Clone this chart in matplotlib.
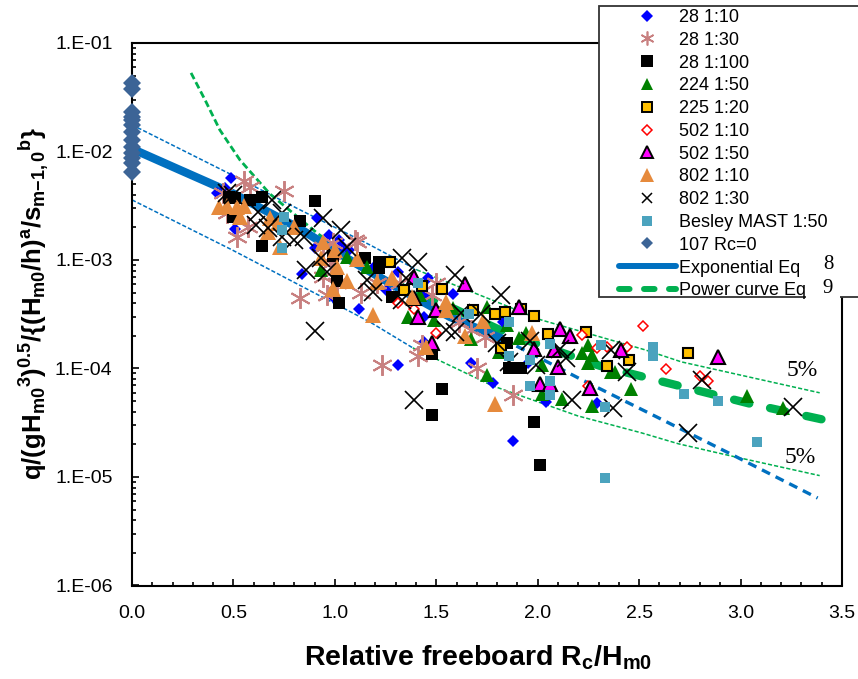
import numpy as np
import matplotlib
matplotlib.use("Agg")
import matplotlib.pyplot as plt
from matplotlib.lines import Line2D
from matplotlib.patches import Rectangle
from matplotlib.ticker import FixedLocator, FixedFormatter, MultipleLocator, NullFormatter

plt.rcParams['font.family'] = ['Liberation Sans', 'DejaVu Sans']
plt.rcParams['mathtext.fontset'] = 'custom'
plt.rcParams['mathtext.rm'] = 'Liberation Sans'
plt.rcParams['mathtext.bf'] = 'Liberation Sans:bold'
plt.rcParams['lines.scale_dashes'] = False

# scatter values: relative freeboard and log10 of the dimensionless discharge
x_28_10 = [.49, .46, .42, .51, .91, .97, 1.04, .90, .84, .99, 1.12, 1.19, 1.31, 1.46, 1.44, 1.58, 1.31, 1.67, 1.78,
           2.04, 1.95, 1.83, 1.44, 1.44, 1.88, 2.29, 1.02, 1.07, 1.25]
y_28_10 = [-2.244, -2.336, -2.382, -2.713, -2.612, -2.769, -2.879, -2.888, -3.128, -3.340, -3.450, -3.073, -3.110,
           -3.165, -3.331, -3.312, -3.966, -3.948, -4.132, -4.307, -3.948, -3.570, -3.524, -3.754, -4.667, -4.316,
           -2.815, -2.907, -3.275]

x_28_30 = [.55, .58, .75, .45, .57, .52, .47, 1.10, 1.11, .94, .99, .83, .96, 1.13, 1.01, .94, .98, 1.21, 1.32, 1.50,
           1.48, 1.23, 1.41, 1.43, 1.67, 1.74, 1.61, 1.70, 1.88]
y_28_30 = [-2.271, -2.327, -2.363, -2.382, -2.695, -2.787, -2.566, -2.815, -2.833, -2.879, -2.842, -3.349, -3.322,
           -3.303, -3.211, -3.156, -3.027, -3.211, -3.211, -3.211, -3.322, -3.966, -3.883, -3.782, -3.644, -3.708,
           -3.570, -3.994, -4.243]

x_28_100 = [.58, .64, .90, .83, .50, .48, .51, .64, 1.15, .99, 1.01, 1.02, 1.22, 1.22, 1.28, 1.48, 1.53, 1.48, 1.86,
            1.92, 1.85, 1.98, 2.01]
y_28_100 = [-2.446, -2.419, -2.456, -2.640, -2.603, -2.419, -2.428, -2.870, -2.981, -2.962, -3.193, -3.395, -3.017,
            -3.073, -3.340, -3.865, -4.188, -4.427, -3.994, -3.994, -3.764, -4.491, -4.888]

x_224 = [.93, 1.06, 1.16, 1.36, 1.49, 1.42, 1.75, 1.67, 1.81, 1.91, 1.94, 2.02, 2.02, 2.12, 2.27, 2.22, 2.27, 2.25,
         2.25, 2.36, 2.38, 2.46, 1.75, 1.58, 1.85, 3.03, 3.21]
y_224 = [-3.091, -2.971, -3.064, -3.524, -3.552, -3.322, -4.059, -3.727, -3.847, -3.718, -3.672, -3.966, -4.234,
         -4.280, -4.344, -3.856, -3.875, -3.782, -3.948, -4.031, -4.031, -4.188, -3.432, -3.441, -3.598, -4.252,
         -4.363]

x_225 = [1.27, 1.34, 1.43, 1.53, 1.68, 1.79, 1.84, 1.92, 1.98, 2.05, 2.24, 1.82, 2.45, 2.34, 2.74]
y_225 = [-3.017, -3.275, -3.239, -3.266, -3.460, -3.497, -3.478, -3.450, -3.515, -3.681, -3.662, -3.810, -3.920,
         -3.976, -3.856]

x_502_10 = [1.31, 1.39, 1.50, 2.22, 2.52, 2.29, 2.34, 2.44, 2.63, 2.80, 2.84, 2.25]
y_502_10 = [-3.395, -3.450, -3.672, -3.690, -3.607, -3.810, -3.801, -3.801, -4.003, -4.068, -4.114, -4.160]

x_502_50 = [1.39, 1.39, 1.41, 1.50, 1.64, 1.48, 1.91, 1.98, 2.08, 2.11, 2.16, 2.10, 2.01, 2.06, 2.26, 2.41, 2.89]
y_502_50 = [-3.156, -3.349, -3.524, -3.460, -3.220, -3.764, -3.432, -3.819, -3.828, -3.635, -3.699, -3.985, -4.141,
            -4.141, -4.178, -3.828, -3.893]

x_802_10 = [.43, .47, .52, .55, .53, .67, .68, .72, .80, .73, .94, 1.00, 1.01, 1.06, 1.11, .99, .93, 1.19, 1.21, 1.28,
            1.38, 1.55, 1.55, 1.45, 1.64, 1.73, 1.79, 1.97]
y_802_10 = [-2.511, -2.502, -2.511, -2.502, -2.603, -2.741, -2.612, -2.658, -2.695, -2.879, -2.833, -2.907, -3.064,
            -3.193, -2.990, -3.266, -2.981, -3.506, -3.202, -3.165, -3.340, -3.386, -3.460, -3.801, -3.699, -3.561,
            -4.325, -3.672]

x_802_30 = [.47, .50, .69, .62, .74, .61, .67, .74, .80, .85, .94, 1.03, 1.06, .93, .86, .96, 1.16, 1.19, .90, 1.33,
            1.41, 1.59, 1.82, 1.33, 1.35, 1.62, 1.55, 1.59, 1.72, 1.80, 1.39, 1.86, 1.99, 1.96, 2.11, 2.14, 2.17,
            2.37, 2.44, 2.36, 2.81, 2.74, 3.26]
y_802_30 = [-2.382, -2.400, -2.446, -2.557, -2.566, -2.677, -2.704, -2.787, -2.815, -2.787, -2.612, -2.723, -2.879,
            -2.981, -3.091, -3.110, -3.183, -3.294, -3.653, -2.981, -3.017, -3.137, -3.322, -3.368, -3.165, -3.487,
            -3.644, -3.662, -3.497, -3.764, -4.289, -3.939, -3.966, -3.745, -3.819, -3.902, -4.289, -4.363, -4.031,
            -3.828, -4.105, -4.593, -4.353]

x_besley = [.75, .74, .74, 1.41, 1.66, 1.86, 2.06, 1.86, 1.96, 1.96, 2.06, 2.06, 2.57, 2.57, 2.31, 2.72, 2.89, 3.08,
            2.33, 2.33]
y_besley = [-2.603, -2.723, -2.888, -3.211, -3.497, -3.570, -3.773, -3.883, -3.920, -4.160, -4.114, -4.243, -3.801,
            -3.883, -3.782, -4.234, -4.298, -4.676, -5.007, -4.353]

x_107 = [0.0] * 13
y_107 = [-1.368, -1.424, -1.637, -1.682, -1.710, -1.755, -1.820, -1.894, -1.959, -2.014, -2.060, -2.106, -2.189]

# curves
x_exp = [0, .236, .493, .828, 1.074, 1.32, 1.567, 1.828]
q_exp = [1.06e-2, 6.76e-3, 4.15e-3, 1.94e-3, 1.00e-3, 5.42e-4, 2.99e-4, 1.87e-4]
x_exp_far = [1.828, 2.01, 2.21, 2.576, 2.94, 3.38]
q_exp_far = [1.87e-4, 1.25e-4, 8.0e-5, 3.66e-5, 1.67e-5, 6.4e-6]

x_pow = [.291, .36, .433, .532, .68, .911, 1.123, 1.32]
q_pow = [5.3e-2, 2.99e-2, 1.58e-2, 8.36e-3, 4.06e-3, 1.78e-3, 9.0e-4, 5.9e-4]
x_pow_far = [1.32, 1.567, 1.813, 2.01, 2.305, 2.70, 3.05, 3.40]
q_pow_far = [5.9e-4, 3.7e-4, 2.27e-4, 1.65e-4, 1.06e-4, 6.9e-5, 4.72e-5, 3.4e-5]

x_up_exp = [0, .493, .828, 1.172, 1.404]
q_up_exp = [1.76e-2, 6.08e-3, 2.90e-3, 1.38e-3, 8.11e-4]
x_up_pow = [1.404, 1.798, 2.015, 2.527, 2.709, 3.39]
q_up_pow = [8.11e-4, 4.11e-4, 2.81e-4, 1.49e-4, 1.15e-4, 5.97e-5]
x_lo_exp = [0, .493, 1.172, 1.384]
q_lo_exp = [3.58e-3, 1.24e-3, 2.69e-4, 1.55e-4]
x_lo_pow = [1.384, 1.778, 2.197, 2.512, 2.695, 2.975, 3.39]
q_lo_pow = [1.55e-4, 6.92e-5, 3.66e-5, 2.55e-5, 2.02e-5, 1.53e-5, 1.03e-5]

y_tick_values = [1e-6, 1e-5, 1e-4, 1e-3, 1e-2, 1e-1]
y_tick_labels = ["1.E-06", "1.E-05", "1.E-04", "1.E-03", "1.E-02", "1.E-01"]

BLUE = '#0070C0'
GREEN = '#00B050'
W, H = 858, 679


def fx(px):
    return px / W


def fy(py):
    return 1 - py / H


def scatter(ax, xs, ys, **style):
    ax.plot(xs, 10.0 ** np.array(ys), ls='none', zorder=3, **style)


fig = plt.figure(figsize=(W / 100, H / 100), dpi=100)
ax = fig.add_axes([fx(132), fy(585.5), fx(842) - fx(132), fy(43) - fy(585.5)])

# curves sit under the markers
ax.plot(x_up_exp, q_up_exp, color=BLUE, lw=1.1, dashes=(3, 1.5), zorder=2)
ax.plot(x_lo_exp, q_lo_exp, color=BLUE, lw=1.1, dashes=(3, 1.5), zorder=2)
ax.plot(x_up_pow, q_up_pow, color=GREEN, lw=1.1, dashes=(3, 1.5), zorder=2)
ax.plot(x_lo_pow, q_lo_pow, color=GREEN, lw=1.1, dashes=(3, 1.5), zorder=2)
ax.plot(x_pow, q_pow, color=GREEN, lw=2, dashes=(5, 2.5), zorder=2)
ax.plot(x_pow_far, q_pow_far, color=GREEN, lw=6, ls=(10.8, (11.3, 15.3)), dash_capstyle='round', zorder=2)
ax.plot(x_exp, q_exp, color=BLUE, lw=6, solid_capstyle='butt', zorder=2)
ax.plot(x_exp_far, q_exp_far, color=BLUE, lw=2.4, dashes=(6.5, 4.5), zorder=2)

scatter(ax, x_28_10, y_28_10, marker='D', ms=6.5, color='#0000FF', mew=0)
scatter(ax, x_28_30, y_28_30, marker=(6, 2, 0), ms=15, color='#C88080', mew=1.4)
scatter(ax, x_28_100, y_28_100, marker='s', ms=8.5, color='black', mew=0)
scatter(ax, x_224, y_224, marker='^', ms=10.5, color='#008000', mew=0)
scatter(ax, x_225, y_225, marker='s', ms=7.8, mfc='#FFC000', mec='black', mew=1.5)
scatter(ax, x_502_10, y_502_10, marker='D', ms=5.5, mfc='white', mec='#FF0000', mew=1.1)
scatter(ax, x_502_50, y_502_50, marker='^', ms=10.5, mfc='#FF00FF', mec='black', mew=1.5)
scatter(ax, x_802_10, y_802_10, marker='^', ms=11, color='#E68A3C', mew=0)
scatter(ax, x_802_30, y_802_30, marker='x', ms=12.5, color='black', mew=1.2)
scatter(ax, x_besley, y_besley, marker='s', ms=7.5, color='#4BA3BE', mew=0)
ax.plot(x_107, 10.0 ** np.array(y_107), ls='none', marker='D', ms=9, color='#3C6496', mew=0, clip_on=False, zorder=4)

ax.set_yscale('log')
ax.set_xlim(0, 3.5)
ax.set_ylim(1e-6, 1e-1)
ax.yaxis.set_major_locator(FixedLocator(y_tick_values))
ax.yaxis.set_major_formatter(FixedFormatter(y_tick_labels))
ax.yaxis.set_minor_locator(FixedLocator([m * d for d in y_tick_values[:-1] for m in range(2, 10)]))
ax.yaxis.set_minor_formatter(NullFormatter())
ax.xaxis.set_major_locator(MultipleLocator(0.5))
ax.xaxis.set_minor_locator(MultipleLocator(0.1))
ax.xaxis.set_major_formatter(lambda v, pos: "%.1f" % v)
ax.tick_params(which='major', direction='in', length=5, width=1.2, labelsize=14)
ax.tick_params(which='minor', direction='in', length=3, width=1.2)
ax.tick_params(axis='x', which='major', pad=14)
ax.tick_params(axis='y', which='major', pad=14)
for side in ax.spines:
    ax.spines[side].set_linewidth(1.5)

ax.text(3.225, 0.95e-4, "5%", family='Liberation Serif', fontsize=17, ha='left', va='center', zorder=5)
ax.text(3.215, 1.5e-5, "5%", family='Liberation Serif', fontsize=17, ha='left', va='center', zorder=5)

fig.text(fx(478), fy(658), r"Relative freeboard R$\mathbf{_{c}}$/H$\mathbf{_{m0}}$",
         fontsize=20.5, fontweight='bold', ha='center', va='center')
fig.text(fx(34), fy(303), r"$\mathbf{q/(gH_{m0}{}^{3})^{0.5}/\{(H_{m0}/h)^{a}/s_{m{-}1,{}0}{}^{b}\}}$",
         fontsize=18.5, rotation=90, ha='center', va='center')

# legend box runs off the right edge of the picture
box = Rectangle((fx(599), fy(297)), 280 / W, 291 / H, transform=fig.transFigure, fc='white', ec='#333333',
                lw=1.3, clip_on=False, zorder=10)
ax.add_patch(box)

handles = [
    Line2D([], [], ls='none', marker='D', ms=6.5, color='#0000FF', mew=0),
    Line2D([], [], ls='none', marker=(6, 2, 0), ms=10, color='#C88080', mew=1.2),
    Line2D([], [], ls='none', marker='s', ms=8.5, color='black', mew=0),
    Line2D([], [], ls='none', marker='^', ms=9, color='#008000', mew=0),
    Line2D([], [], ls='none', marker='s', ms=7.5, mfc='#FFC000', mec='black', mew=1.4),
    Line2D([], [], ls='none', marker='D', ms=5.5, mfc='white', mec='#FF0000', mew=1.1),
    Line2D([], [], ls='none', marker='^', ms=8.5, mfc='#FF00FF', mec='black', mew=1.4),
    Line2D([], [], ls='none', marker='^', ms=9.5, color='#E68A3C', mew=0),
    Line2D([], [], ls='none', marker='x', ms=7.5, color='black', mew=1.1),
    Line2D([], [], ls='none', marker='s', ms=6.8, color='#4BA3BE', mew=0),
    Line2D([], [], ls='none', marker='D', ms=6.5, color='#3C6496', mew=0),
    Line2D([], [], color=BLUE, lw=4.3, solid_capstyle='round'),
    Line2D([], [], color=GREEN, lw=4.3, dashes=(7.6, 10.4), dash_capstyle='round'),
]
labels = ["28 1:10", "28 1:30", "28 1:100", "224 1:50", "225 1:20", "502 1:10", "502 1:50", "802 1:10", "802 1:30",
          "Besley MAST 1:50", "107 Rc=0", "Exponential Eq", "Power curve Eq"]
leg = ax.legend(handles, labels, loc='upper left', bbox_to_anchor=(fx(619), fy(9)), bbox_transform=fig.transFigure,
                frameon=False, fontsize=13, borderpad=0, borderaxespad=0, handlelength=3.15, handletextpad=0.2,
                labelspacing=0.32, numpoints=1)
leg.set_zorder(11)

# white patch with the equation numbers on top of the legend corner
ax.add_patch(Rectangle((fx(806), fy(300)), 34 / W, 47 / H, transform=fig.transFigure, fc='white', ec='none',
                       clip_on=False, zorder=12))
for label, py in (("8", 265), ("9", 288)):
    t = fig.text(fx(828), fy(py), label, family='Liberation Serif', fontsize=15, ha='center', va='center')
    t.set_zorder(13)

fig.savefig("out.png", dpi=100)
